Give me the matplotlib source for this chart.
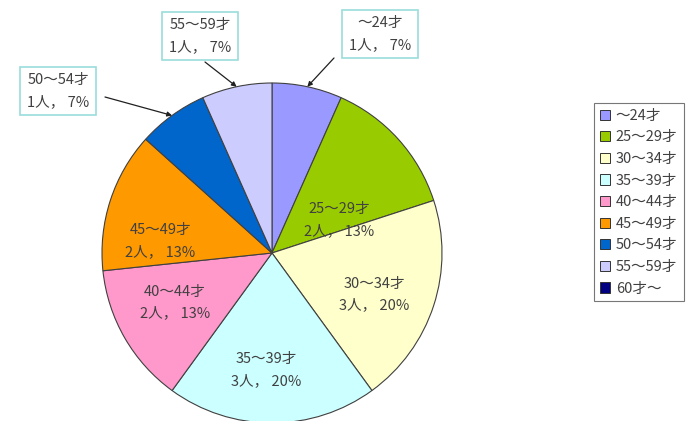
import numpy as np
import matplotlib.pyplot as plt
from matplotlib.patches import Patch

plt.rcParams['font.family'] = ['Noto Sans CJK JP', 'DejaVu Sans']

ages = ['～24才', '25～29才', '30～34才', '35～39才', '40～44才',
        '45～49才', '50～54才', '55～59才', '60才～']
people = [1, 2, 3, 3, 2, 2, 1, 1, 0]
colors = ['#9999FF', '#99CC00', '#FFFFCC', '#CCFFFF', '#FF99CC',
          '#FF9900', '#0066CC', '#CCCCFF', '#000080']

total = sum(people)

fig = plt.figure(figsize=(6.94, 4.21), dpi=100)
ax = fig.add_axes([0, 0, 1, 1])

# pie centre at pixel (272, 253), radius 170 px
cx, cy, r = 272, 253, 170

vals = [v for v in people if v > 0]
cols = [c for v, c in zip(people, colors) if v > 0]
labs = [a for v, a in zip(people, ages) if v > 0]

wedges, _ = ax.pie(vals, colors=cols, startangle=90, counterclock=False,
                   radius=1, center=(0, 0), frame=True,
                   wedgeprops=dict(edgecolor='#404040', linewidth=0.8))
ax.set_xlim(-cx / r, (694 - cx) / r)
ax.set_ylim(-(421 - cy) / r, cy / r)
ax.set_aspect('equal')
ax.axis('off')

txt_col = '#404040'
# label positions inside slices (angle from top clockwise in deg, distance)
inside_pos = {'25～29才': (64, 0.44), '30～34才': (112, 0.65),
              '35～39才': (183, 0.69), '40～44才': (243, 0.64),
              '45～49才': (276, 0.66)}
# outside boxes: text centre in pixels
outside_pos = {'～24才': (380, 34), '55～59才': (200, 36), '50～54才': (58, 91)}
arrow_start = {'～24才': (334, 58), '55～59才': (205, 62), '50～54才': (105, 97)}

for w, lab, v in zip(wedges, labs, vals):
    pct = round(100 * v / total)
    s = f'{lab}\n{v}人， {pct}%'
    mid = np.deg2rad((w.theta1 + w.theta2) / 2)
    if lab in inside_pos:
        a, d = inside_pos[lab]
        a = np.deg2rad(a)
        ax.text(d * np.sin(a), d * np.cos(a), s, ha='center', va='center',
                fontsize=10.5, color=txt_col, linespacing=1.7)
    else:
        px, py = outside_pos[lab]
        sx, sy = arrow_start[lab]
        tip = (np.cos(mid), np.sin(mid))
        ax.annotate('', xy=tip, xytext=((sx - cx) / r, (cy - sy) / r),
                    arrowprops=dict(arrowstyle='-|>', color='#202020', lw=0.9,
                                    mutation_scale=7, shrinkA=0, shrinkB=0))
        ax.text((px - cx) / r, (cy - py) / r, s, ha='center', va='center',
                fontsize=10.5, color=txt_col, linespacing=1.7,
                bbox=dict(boxstyle='square,pad=0.45', fc='white', ec='#99DDDD', lw=1.2))

handles = [Patch(facecolor=c, edgecolor='#333333', linewidth=0.7) for c in colors]
leg = fig.legend(handles, ages, loc='upper left', bbox_to_anchor=(594 / 694, 1 - 103 / 421),
                 fontsize=10.5, frameon=True, fancybox=False, edgecolor='#555555',
                 handlelength=0.7, handleheight=0.7, handletextpad=0.4,
                 labelspacing=0.52, borderpad=0.4, borderaxespad=0)
leg.get_frame().set_linewidth(0.8)
for t in leg.get_texts():
    t.set_color(txt_col)

plt.savefig('out.png', dpi=100)
